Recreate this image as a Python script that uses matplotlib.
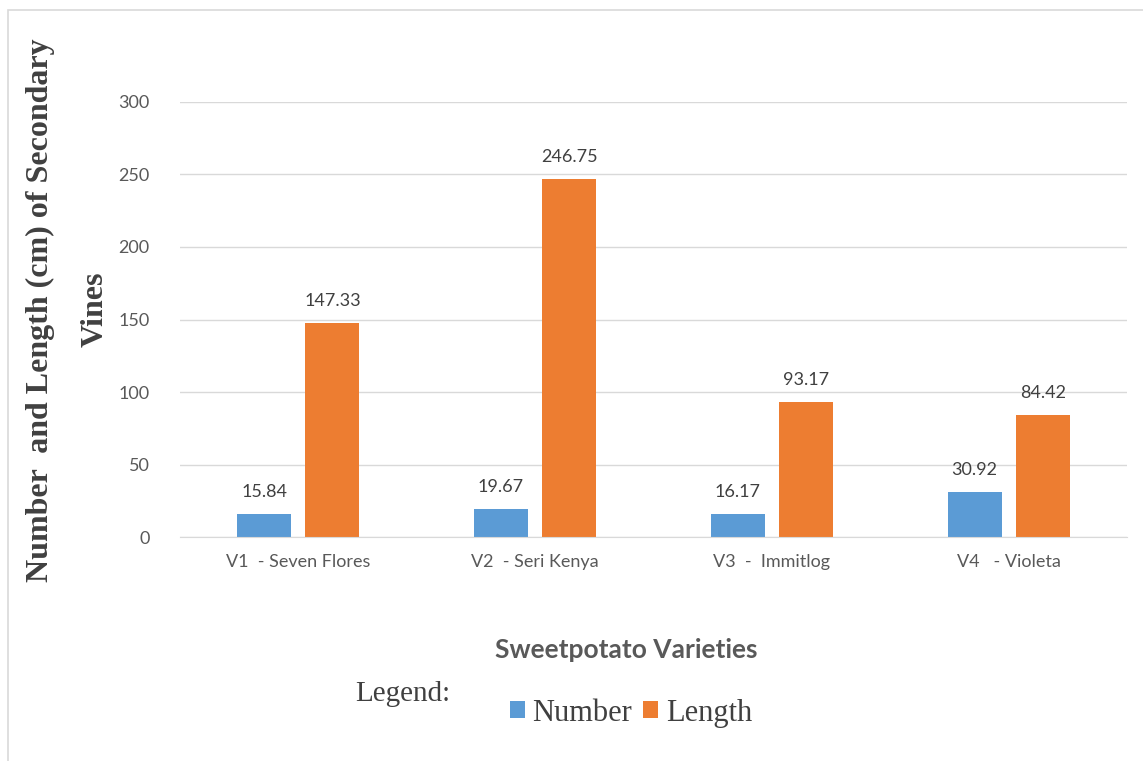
import matplotlib.pyplot as plt
import numpy as np
from matplotlib.patches import Rectangle

# Varieties and measured values
variedades = ["V1  - Seven Flores", "V2  - Seri Kenya", "V3  -  Immitlog", "V4   - Violeta"]
numero = [15.84, 19.67, 16.17, 30.92]
comprimento = [147.33, 246.75, 93.17, 84.42]
y_ticks = [0, 50, 100, 150, 200, 250, 300]

azul = "#5B9BD5"
laranja = "#ED7D31"
cinza_txt = "#595959"
fonte = "Lato"

fig = plt.figure(figsize=(11.43, 7.61), dpi=100)
ax = fig.add_axes([0.1575, 0.2943, 0.8285, 0.5717])

x = np.arange(len(variedades))
largura = 0.228
desloc = 0.144

barras_n = ax.bar(x - desloc, numero, largura, color=azul, label="Number")
barras_c = ax.bar(x + desloc, comprimento, largura, color=laranja, label="Length")

# Valores acima das barras
for barras in (barras_n, barras_c):
    for b in barras:
        v = b.get_height()
        ax.annotate(f"{v:.2f}", (b.get_x() + b.get_width() / 2, v),
                    xytext=(0, 10), textcoords="offset points",
                    ha="center", va="bottom", fontsize=13,
                    color="#404040", family=fonte)

ax.set_xlim(-0.5, len(variedades) - 0.5)
ax.set_ylim(0, 300)
ax.set_yticks(y_ticks)
ax.set_xticks(x)
ax.set_xticklabels(variedades)
ax.grid(axis="y", color="#D9D9D9", linewidth=1)
ax.set_axisbelow(True)
for lado in ("top", "right", "left"):
    ax.spines[lado].set_visible(False)
ax.spines["bottom"].set_color("#D9D9D9")
ax.tick_params(axis="both", length=0, labelsize=13, labelcolor=cinza_txt)
ax.tick_params(axis="y", pad=22)
ax.tick_params(axis="x", pad=12)
for t in ax.get_xticklabels() + ax.get_yticklabels():
    t.set_family(fonte)

# Titulo do eixo y em serifada negrito
fig.text(0.035, 0.593, "Number  and Length (cm) of Secondary", rotation=90,
         ha="center", va="center", fontsize=23, fontweight="bold",
         family="Liberation Serif", color="#404040")
fig.text(0.083, 0.593, "Vines", rotation=90, ha="center", va="center",
         fontsize=23, fontweight="bold", family="Liberation Serif",
         color="#404040")

fig.text(0.548, 0.146, "Sweetpotato Varieties", ha="center", va="center",
         fontsize=19, fontweight="bold", family=fonte, color=cinza_txt)

fig.text(0.352, 0.088, "Legend:", ha="center", va="center", fontsize=21,
         family="Liberation Serif", color="#404040")
leg = fig.legend(handles=[barras_n, barras_c], loc="center",
                 bbox_to_anchor=(0.552, 0.063), ncol=2, frameon=False,
                 handlelength=0.5, handleheight=0.5, handletextpad=0.25,
                 columnspacing=0.35,
                 prop={"family": "Liberation Serif", "size": 22})
for t in leg.get_texts():
    t.set_color("#404040")

# Moldura clara
fig.patches.append(Rectangle((8 / 1143, -0.1), 1.2, 1 - 10 / 761 + 0.1,
                             transform=fig.transFigure, fill=False,
                             edgecolor="#D9D9D9", linewidth=1.2))

fig.savefig("out.png", dpi=100)
